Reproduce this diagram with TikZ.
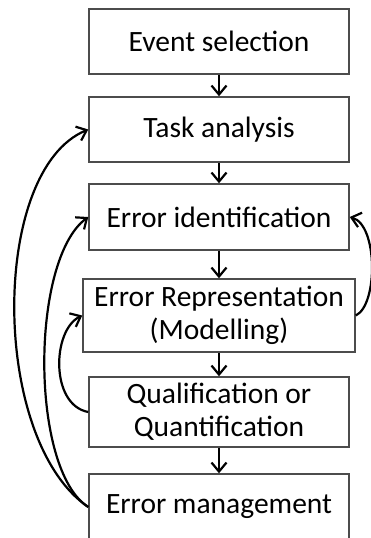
\documentclass[tikz,border=0pt]{standalone}
\usepackage{fontspec}
\setmainfont{Carlito}
\usetikzlibrary{arrows.meta}

\tikzset{
	stepbox/.style={draw=black!70, line width=1.5pt, minimum width=260pt, minimum height=65pt, inner sep=0pt, align=center, font=\fontsize{29.5}{33}\selectfont},
	flow/.style={-{Straight Barb[length=9pt,width=15pt]}, line width=2.2pt},
}

\begin{document}
\begin{tikzpicture}[x=1pt, y=-1pt]
					
					\clip (0,0) rectangle (371,538);
					
					\node[stepbox] (event) at (219,41.5) {Event selection};
					\node[stepbox] (task) at (219,129.5) {Task analysis};
					\node[stepbox, minimum height=66pt] (ident) at (219,217) {Error identification};
					\node[stepbox, minimum width=272pt, minimum height=73pt] (repr) at (219,315.5) {Error Representation\\(Modelling)};
					\node[stepbox, minimum height=70pt] (quant) at (219,412) {Qualification or\\Quantification};
					\node[stepbox, minimum height=66pt] (mgmt) at (219,507) {Error management};
					
					% straight steps down
					\draw[flow] (event) -- (task);
					\draw[flow] (task) -- (ident);
					\draw[flow] (ident) -- (repr);
					\draw[flow] (repr) -- (quant);
					\draw[flow] (quant) -- (mgmt);
					
					% feedback loops
					\draw[flow] (mgmt.west) .. controls (-10,440) and (-10,170) .. (task.west);
					\draw[flow] (mgmt.west) .. controls (30,470) and (30,260) .. (ident.west);
					\draw[flow] (quant.west) .. controls (50,405) and (52,330) .. (repr.west);
					\draw[flow] (repr.east) .. controls (378,305) and (378,225) .. (ident.east);
					
				\end{tikzpicture}
\end{document}
